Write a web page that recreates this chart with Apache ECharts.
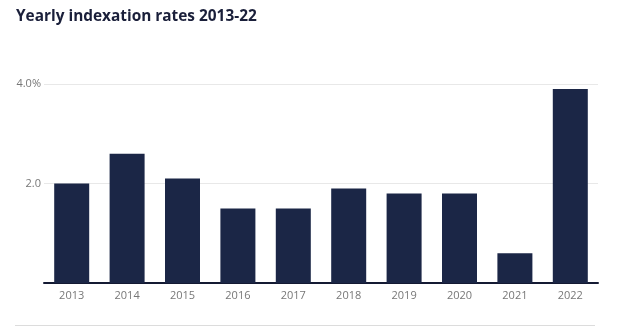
<!DOCTYPE html>
<html><head><meta charset="utf-8">
<script src="https://cdn.jsdelivr.net/npm/echarts@6/dist/echarts.min.js"></script>
<style>html,body{margin:0;padding:0;background:#fff}#c{width:617px;height:333px}</style>
</head><body><div id="c"></div>
<script>
const title = 'Yearly indexation rates 2013-22';
const years = ['2013','2014','2015','2016','2017','2018','2019','2020','2021','2022'];
const rates = [2.0, 2.6, 2.1, 1.5, 1.5, 1.9, 1.8, 1.8, 0.6, 3.9];
const yTicks = {0: '', 2: '2.0', 4: '4.0%'};

const chart = echarts.init(document.getElementById('c'), null, {renderer: 'canvas'});
chart.setOption({
  animation: false,
  title: {
    text: title, left: 16, top: 9, padding: 0,
    textStyle: {fontFamily: 'Open Sans', fontWeight: 'bold', fontSize: 15.4, color: '#1a1f3a'}
  },
  grid: {left: 44, right: 19, top: 84, bottom: 50, containLabel: false},
  xAxis: {
    type: 'category', data: years,
    axisLine: {lineStyle: {color: '#141a33', width: 2}},
    axisTick: {show: false},
    axisLabel: {color: '#777', fontFamily: 'Open Sans', fontSize: 11, margin: 7}
  },
  yAxis: {
    type: 'value', min: 0, max: 4, interval: 2,
    axisLine: {show: false}, axisTick: {show: false},
    splitLine: {lineStyle: {color: '#e8e8e8', width: 1}},
    axisLabel: {color: '#777', fontFamily: 'Open Sans', fontSize: 11, margin: 3,
      formatter: v => yTicks[v] !== undefined ? yTicks[v] : ''}
  },
  series: [{
    type: 'bar', data: rates, barWidth: 35,
    itemStyle: {color: '#1b2646'}
  }],
  graphic: [{
    type: 'line', shape: {x1: 15, y1: 325.5, x2: 595, y2: 325.5},
    style: {stroke: '#dcdcdc', lineWidth: 1}
  }]
});
</script></body></html>
